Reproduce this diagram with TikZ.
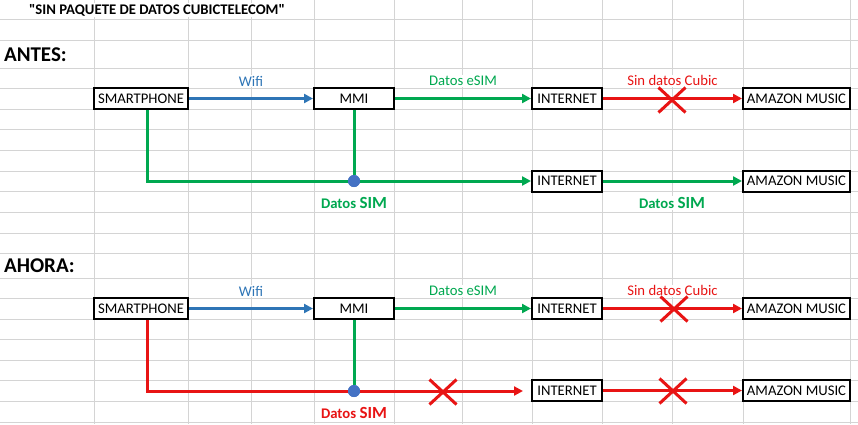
\documentclass[tikz,border=0pt]{standalone}
\usepackage{fontspec}
\setmainfont{Carlito}[Ligatures=TeXOff]
\usetikzlibrary{arrows.meta,shapes.misc}

\definecolor{gridgray}{RGB}{212,212,212}
\definecolor{xblue}{RGB}{46,117,182}
\definecolor{xgreen}{RGB}{0,168,80}
\definecolor{xred}{RGB}{232,20,20}
\definecolor{xdot}{RGB}{68,114,196}
\newcommand\cellfont{\fontsize{14.7}{17}\selectfont}
\newcommand\headfont{\fontsize{21}{24}\selectfont\bfseries}

\begin{document}
\begin{tikzpicture}[x=1pt,y=-1pt]
\tikzstyle{arrow} = [->,>={Triangle[length=9pt,width=9pt]},line width=3pt]
\tikzstyle{box} = [draw,line width=2pt,fill=white,minimum height=21pt,inner sep=0pt,font=\cellfont]
\tikzstyle{cross} = [cross out,draw=xred,line width=3pt,minimum width=24pt,minimum height=22pt,inner sep=0pt]
\tikzstyle{tag} = [fill=white,inner sep=1pt,font=\cellfont]
\tikzstyle{dot} = [circle,fill=xdot,minimum size=12pt,inner sep=0pt]

% sheet
\useasboundingbox (0,0) rectangle (858,424);
\fill[white] (0,0) rectangle (858,424);
\foreach \x in {94,188,251,314,394,462,532,602,672,743,850}
  \draw[gridgray,line width=1pt] (\x,0) -- (\x,424);
\foreach \y in {19,40,68,88,109,129,150,171,191,212,233,253,278,298,319,339,360,380,401,422}
  \draw[gridgray,line width=1pt] (0,\y) -- (858,\y);

% titles
\node[tag,font=\cellfont\bfseries] (title) at (157,10) {"SIN PAQUETE DE DATOS CUBICTELECOM"};
\node[anchor=west,font=\headfont] (antes) at (0.5,55) {ANTES:};
\node[anchor=west,font=\headfont] (ahora) at (0.5,266) {AHORA:};

% nodes antes
\node[box,minimum width=94pt] (phoneA) at (141,98.5) {SMARTPHONE};
\node[box,minimum width=80pt] (mmiA) at (354,98.5) {MMI};
\node[box,minimum width=70pt] (netA) at (567,98.5) {INTERNET};
\node[box,minimum width=107pt] (musicA) at (796.5,98.5) {AMAZON MUSIC};
\node[box,minimum width=70pt] (netB) at (567,181) {INTERNET};
\node[box,minimum width=107pt] (musicB) at (796.5,181) {AMAZON MUSIC};

% nodes ahora
\node[box,minimum width=94pt] (phoneC) at (141,308.5) {SMARTPHONE};
\node[box,minimum width=80pt] (mmiC) at (354,308.5) {MMI};
\node[box,minimum width=70pt] (netC) at (567,308.5) {INTERNET};
\node[box,minimum width=107pt] (musicC) at (796.5,308.5) {AMAZON MUSIC};
\node[box,minimum width=70pt] (netD) at (567,390.5) {INTERNET};
\node[box,minimum width=107pt] (musicD) at (796.5,390.5) {AMAZON MUSIC};
\coordinate (stopD) at (523,391);

% arrows antes
\draw [arrow,xblue] (phoneA) -- node[tag,above=10pt,text=xblue] {Wifi} (mmiA);
\draw [arrow,xgreen] (mmiA) -- node[tag,above=10pt,text=xgreen] {Datos eSIM} (netA);
\draw [arrow,xred] (netA) -- node[tag,above=10pt,text=xred] {Sin datos Cubic} (musicA);
\draw [arrow,xgreen] ([xshift=6pt]phoneA.south) |- (netB);
\node[dot] (simA) at (mmiA |- netB) {};
\draw [xgreen,line width=3pt] (mmiA) -- (simA);
\node[dot] at (simA) {};
\draw [arrow,xgreen] (netB) -- (musicB);
\node[cross] (noA) at (672,100) {};
\node[tag,text=xgreen,font=\cellfont\bfseries] (simtagA) at (354,203) {Datos {\fontsize{17}{17}\selectfont SIM}};
\node[tag,text=xgreen,font=\cellfont\bfseries] (simtagB) at (672,203) {Datos {\fontsize{17}{17}\selectfont SIM}};

% arrows ahora
\draw [arrow,xblue] (phoneC) -- node[tag,above=10pt,text=xblue] {Wifi} (mmiC);
\draw [arrow,xgreen] (mmiC) -- node[tag,above=10pt,text=xgreen] {Datos eSIM} (netC);
\draw [arrow,xred] (netC) -- node[tag,above=10pt,text=xred] {Sin datos Cubic} (musicC);
\draw [arrow,xred] ([xshift=6pt]phoneC.south) |- (stopD);
\node[dot] (simC) at (mmiC |- stopD) {};
\draw [xgreen,line width=3pt] (mmiC) -- (simC);
\node[dot] at (simC) {};
\draw [arrow,xred] (netD) -- (musicD);
\node[cross] (noC) at (674,309) {};
\node[cross] (noD) at (443,392) {};
\node[cross] (noE) at (673,391) {};
\node[tag,text=xred,font=\cellfont\bfseries] (simtagC) at (354,413) {Datos {\fontsize{17}{17}\selectfont SIM}};

\end{tikzpicture}
\end{document}
